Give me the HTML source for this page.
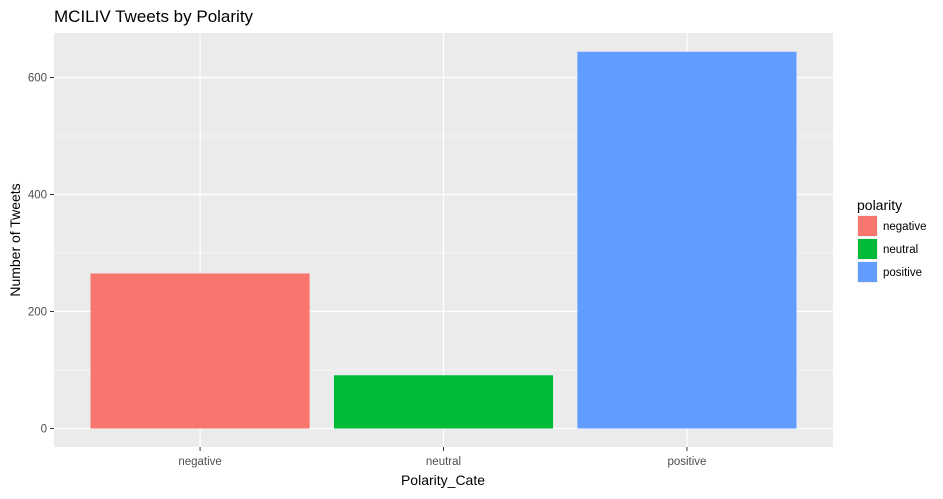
<!DOCTYPE html>
<html><head><meta charset="utf-8"><style>
body{margin:0;background:#fff;}
svg text{font-family:"Liberation Sans",Arial,sans-serif;}
</style></head><body>
<svg width="943" height="494" xmlns="http://www.w3.org/2000/svg">
<text x="54" y="22" font-size="17" fill="#000">MCILIV Tweets by Polarity</text>
<rect x="54" y="33" width="779" height="414" fill="#ebebeb"/>
<g id="grid"></g>
<g id="bars"></g>
<g id="axes"></g>
<text x="443" y="485" font-size="14" text-anchor="middle" fill="#000">Polarity_Cate</text>
<text transform="translate(20,240) rotate(-90)" font-size="14" text-anchor="middle" fill="#000">Number of Tweets</text>
<g id="legend">
<text x="857" y="210" font-size="14" fill="#000">polarity</text>
</g>
</svg>
<script>
const categories=["negative","neutral","positive"];
const values=[265,91,644];
const colors=["#f8766d","#00ba38","#619cff"];
const yTicks=[0,200,400,600];
const yMinor=[100,300,500];
const NS="http://www.w3.org/2000/svg";
const L=54,R=833,T=33,B=447;
const y0=428.5,k=351/600;
const yS=v=>y0-v*k;
const band=(R-L)/(categories.length+0.2);
const xS=i=>L+band*(0.6+i);
function mk(p,tag,at,txt){const e=document.createElementNS(NS,tag);for(const a in at)e.setAttribute(a,at[a]);if(txt!==undefined)e.textContent=txt;document.getElementById(p).appendChild(e);return e;}
yMinor.forEach(v=>{const e=mk("grid","line",{x1:L,x2:R,y1:yS(v),y2:yS(v),stroke:"#fff","stroke-width":0.6});

});
yTicks.forEach(v=>{const e=mk("grid","line",{x1:L,x2:R,y1:yS(v),y2:yS(v),stroke:"#fff","stroke-width":1.2});


const t=mk("axes","text",{x:L-7,y:yS(v)+4,"font-size":11.5,fill:"#4d4d4d","text-anchor":"end"},v);


const tk=mk("axes","line",{x1:L-4,x2:L,y1:yS(v),y2:yS(v),stroke:"#333","stroke-width":1});

});
categories.forEach((c,i)=>{const cx=xS(i);
const g=mk("grid","line",{x1:cx,x2:cx,y1:T,y2:B,stroke:"#fff","stroke-width":1.2});


const w=band*0.9;
const b=mk("bars","rect",{x:cx-w/2,y:yS(values[i]),width:w,height:y0-yS(values[i]),fill:colors[i]});


const tk=mk("axes","line",{x1:cx,x2:cx,y1:B,y2:B+4,stroke:"#333","stroke-width":1});


const t=mk("axes","text",{x:cx,y:B+18,"font-size":11.5,fill:"#4d4d4d","text-anchor":"middle"},c);


const ky=215+i*23;
const kb=mk("legend","rect",{x:857,y:ky,width:21,height:22,fill:"#f2f2f2"});


const kr=mk("legend","rect",{x:858,y:ky+1,width:19,height:20,fill:colors[i]});


const kt=mk("legend","text",{x:883,y:ky+15,"font-size":11.5,fill:"#000"},c);

});
</script>
</body></html>
